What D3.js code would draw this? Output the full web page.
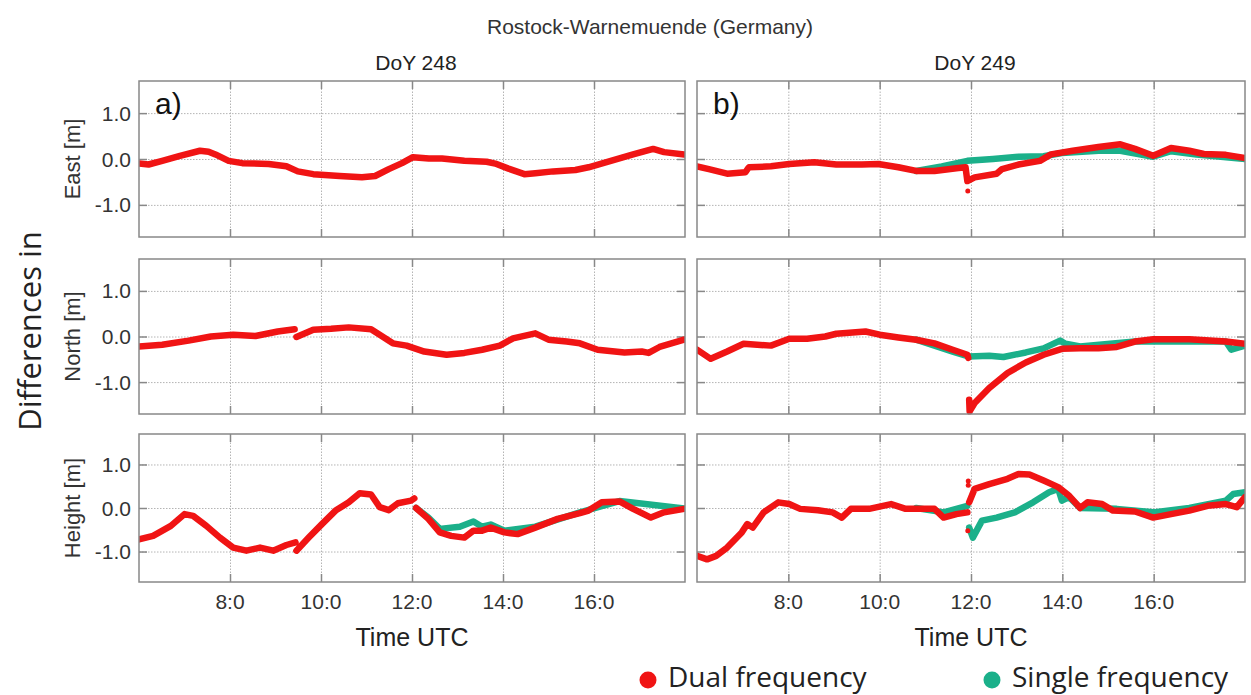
<!DOCTYPE html>
<html>
<head>
<meta charset="utf-8">
<script src="https://cdn.jsdelivr.net/npm/d3@7"></script>
<style>
  html, body { margin: 0; padding: 0; background: #fff; }
  svg { display: block; }
</style>
</head>
<body>
<svg id="chart" width="1251" height="695"></svg>
<script>
// ---- data: [time UTC in hours, difference in metres]; null breaks a track ----
const timeTicks = [8, 10, 12, 14, 16];
const timeTickLabels = ["8:0", "10:0", "12:0", "14:0", "16:0"];
const valueTicks = [1, 0, -1];
const valueTickLabels = ["1.0", "0.0", "-1.0"];
const dayTitles = ["DoY 248", "DoY 249"];
const panelTags = ["a)", "b)"];
const componentNames = ["East [m]", "North [m]", "Height [m]"];
const seriesNames = ["Dual frequency", "Single frequency"];

const east248Dual = [[6.0,-0.10],[6.21,-0.12],[6.51,-0.04],[6.9,0.07],[7.34,0.18],[7.53,0.16],[7.68,0.10],[7.97,-0.04],[8.27,-0.09],[8.85,-0.11],[9.24,-0.16],[9.49,-0.27],[9.83,-0.33],[10.41,-0.37],[10.9,-0.40],[11.19,-0.37],[11.49,-0.22],[11.78,-0.09],[12.02,0.04],[12.37,0.01],[12.66,0.01],[13.15,-0.04],[13.64,-0.06],[13.83,-0.10],[14.12,-0.21],[14.47,-0.33],[14.71,-0.31],[15.1,-0.27],[15.59,-0.24],[15.88,-0.18],[16.37,-0.04],[16.86,0.10],[17.3,0.22],[17.54,0.15],[17.98,0.10]];
const east248Single = [];
const east248Spikes = [];

const east249Dual = [[6.0,-0.16],[6.26,-0.22],[6.66,-0.32],[7.06,-0.29],[7.12,-0.20],[7.14,-0.18],[7.62,-0.16],[8.02,-0.11],[8.57,-0.07],[9.05,-0.12],[9.61,-0.12],[9.97,-0.11],[10.41,-0.18],[10.8,-0.26],[11.2,-0.26],[11.68,-0.20],[11.88,-0.18],[11.92,-0.48],[12.08,-0.40],[12.56,-0.32],[12.68,-0.22],[13.04,-0.12],[13.51,-0.04],[13.75,0.10],[14.23,0.18],[14.79,0.26],[15.27,0.32],[15.59,0.22],[15.99,0.07],[16.38,0.24],[16.78,0.18],[17.1,0.11],[17.58,0.09],[18.0,0.02]];
const east249Single = [[10.8,-0.26],[11.36,-0.16],[11.92,-0.04],[12.48,0.0],[13.04,0.05],[13.59,0.06],[13.99,0.13],[14.79,0.18],[15.27,0.18],[15.99,0.05],[16.38,0.17],[16.94,0.10],[18.0,0.0]];
const east249Spikes = [[11.93,-0.70]];

const north248Dual = [[6.0,-0.22],[6.51,-0.18],[7.09,-0.09],[7.58,0.0],[8.07,0.04],[8.56,0.01],[9.05,0.11],[9.42,0.16],null,[9.46,-0.01],[9.83,0.15],[10.22,0.17],[10.61,0.20],[11.1,0.16],[11.29,0.04],[11.58,-0.15],[11.88,-0.20],[12.27,-0.33],[12.76,-0.40],[13.15,-0.36],[13.54,-0.29],[13.93,-0.20],[14.22,-0.04],[14.71,0.07],[15.0,-0.07],[15.4,-0.11],[15.69,-0.15],[16.08,-0.29],[16.67,-0.35],[17.05,-0.33],[17.2,-0.36],[17.44,-0.23],[17.98,-0.07]];
const north248Single = [];
const north248Spikes = [];

const north249Dual = [[6.0,-0.29],[6.3,-0.49],[6.66,-0.33],[7.02,-0.16],[7.62,-0.20],[8.02,-0.05],[8.41,-0.05],[8.81,0.0],[9.05,0.06],[9.69,0.11],[10.0,0.04],[10.41,-0.02],[10.8,-0.07],[11.2,-0.15],[11.6,-0.29],[11.92,-0.40],[11.94,-0.47],null,[11.96,-1.39],[11.97,-1.64],[12.08,-1.46],[12.4,-1.13],[12.8,-0.80],[13.2,-0.57],[13.59,-0.40],[13.99,-0.27],[14.39,-0.26],[14.79,-0.26],[15.19,-0.23],[15.59,-0.11],[15.99,-0.06],[16.78,-0.06],[17.58,-0.11],[18.0,-0.16]];
const north249Single = [[10.8,-0.07],[11.6,-0.33],[11.96,-0.44],[12.4,-0.42],[12.71,-0.45],[13.2,-0.35],[13.59,-0.26],[13.95,-0.09],[14.07,-0.16],[14.39,-0.22],[15.59,-0.11],[17.58,-0.11],[17.7,-0.29],[18.0,-0.20]];
const north249Spikes = [];

const height248Dual = [[6.0,-0.72],[6.31,-0.64],[6.7,-0.41],[7.0,-0.14],[7.19,-0.18],[7.48,-0.41],[7.78,-0.68],[8.07,-0.91],[8.36,-0.98],[8.66,-0.91],[8.95,-0.98],[9.24,-0.85],[9.44,-0.79],null,[9.46,-0.98],[9.73,-0.68],[10.02,-0.37],[10.32,-0.06],[10.61,0.13],[10.85,0.34],[11.1,0.31],[11.29,0.02],[11.49,-0.05],[11.69,0.11],[11.98,0.17],[12.05,0.22],null,[12.09,0.0],[12.36,-0.25],[12.61,-0.56],[12.86,-0.64],[13.15,-0.68],[13.35,-0.52],[13.54,-0.52],[13.73,-0.45],[14.03,-0.56],[14.32,-0.60],[14.71,-0.45],[15.2,-0.25],[15.69,-0.12],[15.88,-0.06],[16.17,0.13],[16.56,0.15],[16.86,-0.02],[17.25,-0.22],[17.54,-0.10],[17.98,-0.02]];
const height248Single = [[12.09,0.0],[12.36,-0.22],[12.61,-0.48],[13.05,-0.43],[13.35,-0.31],[13.54,-0.43],[13.73,-0.38],[14.03,-0.52],[14.71,-0.43],[15.69,-0.10],[16.56,0.16],[17.98,-0.01]];
const height248Spikes = [];

const height249Dual = [[6.0,-1.10],[6.22,-1.18],[6.42,-1.10],[6.66,-0.91],[6.98,-0.56],[7.1,-0.37],[7.22,-0.45],[7.46,-0.10],[7.78,0.13],[8.02,0.09],[8.26,-0.02],[8.65,-0.05],[8.97,-0.10],[9.17,-0.22],[9.37,-0.02],[9.77,-0.02],[10.25,0.09],[10.57,-0.02],[11.2,-0.02],[11.4,-0.22],[11.68,-0.14],[11.92,-0.10],null,[11.96,0.13],[12.08,0.44],[12.4,0.55],[12.8,0.67],[13.04,0.78],[13.28,0.77],[13.59,0.63],[13.91,0.48],[14.15,0.28],[14.39,0.0],[14.55,0.13],[14.87,0.09],[15.11,-0.06],[15.59,-0.08],[15.99,-0.22],[16.38,-0.14],[16.78,-0.06],[17.18,0.05],[17.58,0.09],[17.82,0.02],[18.0,0.25]];
const height249Single = [[10.8,0.0],[11.4,-0.10],[11.92,0.05],null,[11.96,-0.45],[12.04,-0.68],[12.24,-0.29],[12.56,-0.22],[12.96,-0.10],[13.36,0.13],[13.71,0.36],[13.91,0.44],[13.99,0.17],[14.15,0.25],[14.39,0.0],[15.19,-0.02],[15.99,-0.10],[16.78,0.0],[17.58,0.17],[17.74,0.32],[18.0,0.36]];
const height249Spikes = [[11.94,0.62],[11.94,0.52],[11.93,-0.52]];

// ---- layout ----
const dualColor = "#f01414";
const singleColor = "#1bb08a";
const textColor = "#333";
const frameColor = "#888";
const sans = "Liberation Sans, Arial, sans-serif";
const roundSans = "Open Sans, Noto Sans, sans-serif";

const columns = [{x0: 139, x1: 685}, {x0: 697, x1: 1245}];
const rows = [{y0: 81, y1: 237}, {y0: 259, y1: 414}, {y0: 434, y1: 582}];

const panels = [
  [east248Dual, east248Single, east248Spikes],
  [east249Dual, east249Single, east249Spikes],
  [north248Dual, north248Single, north248Spikes],
  [north249Dual, north249Single, north249Spikes],
  [height248Dual, height248Single, height248Spikes],
  [height249Dual, height249Single, height249Spikes]
];

const svg = d3.select("#chart");

svg.append("text")
  .attr("x", 650).attr("y", 34)
  .attr("text-anchor", "middle")
  .attr("font-family", sans)
  .attr("font-size", 21)
  .attr("fill", textColor)
  .text("Rostock-Warnemuende (Germany)");

svg.append("text")
  .attr("transform", "translate(41,331) rotate(-90)")
  .attr("text-anchor", "middle")
  .attr("font-family", roundSans)
  .attr("font-size", 31)
  .attr("fill", "#222")
  .text("Differences in");

rows.forEach((row, r) => {
  columns.forEach((col, c) => {
    const [dual, single, spikes] = panels[r * 2 + c];
    const x = d3.scaleLinear().domain([6, 18]).range([col.x0, col.x1]);
    const y = d3.scaleLinear().domain([-1.7, 1.7]).range([row.y1, row.y0]);
    const g = svg.append("g");

    // dotted grid
    g.append("g")
      .attr("transform", `translate(0,${row.y1})`)
      .call(d3.axisBottom(x).tickValues(timeTicks).tickSize(-(row.y1 - row.y0)).tickFormat(""))
      .call(a => a.select(".domain").remove())
      .call(a => a.selectAll("line").attr("stroke", "#b4b4b4").attr("stroke-dasharray", "1.5,1.5"));
    g.append("g")
      .attr("transform", `translate(${col.x0},0)`)
      .call(d3.axisLeft(y).tickValues(valueTicks).tickSize(-(col.x1 - col.x0)).tickFormat(""))
      .call(a => a.select(".domain").remove())
      .call(a => a.selectAll("line").attr("stroke", "#b4b4b4").attr("stroke-dasharray", "1.5,1.5"));

    // inward tick marks on all four sides
    const tick = 8;
    const tickStyle = s => s.selectAll("line").attr("stroke", frameColor).attr("stroke-width", 1.5);
    g.append("g").attr("transform", `translate(0,${row.y1})`)
      .call(d3.axisTop(x).tickValues(timeTicks).tickSize(tick).tickFormat(""))
      .call(a => a.select(".domain").remove()).call(tickStyle);
    g.append("g").attr("transform", `translate(0,${row.y0})`)
      .call(d3.axisBottom(x).tickValues(timeTicks).tickSize(tick).tickFormat(""))
      .call(a => a.select(".domain").remove()).call(tickStyle);
    g.append("g").attr("transform", `translate(${col.x0},0)`)
      .call(d3.axisRight(y).tickValues(valueTicks).tickSize(tick).tickFormat(""))
      .call(a => a.select(".domain").remove()).call(tickStyle);
    g.append("g").attr("transform", `translate(${col.x1},0)`)
      .call(d3.axisLeft(y).tickValues(valueTicks).tickSize(tick).tickFormat(""))
      .call(a => a.select(".domain").remove()).call(tickStyle);

    // data tracks
    const clipId = `clip-${r}-${c}`;
    svg.append("clipPath").attr("id", clipId)
      .append("rect").attr("x", col.x0).attr("y", row.y0 - 2)
      .attr("width", col.x1 - col.x0).attr("height", row.y1 - row.y0 + 4);
    const line = d3.line().defined(d => d !== null).x(d => x(d[0])).y(d => y(d[1]));
    const marks = g.append("g").attr("clip-path", `url(#${clipId})`);
    if (single.length) {
      marks.append("path").datum(single).attr("d", line)
        .attr("fill", "none").attr("stroke", singleColor).attr("stroke-width", 6.5)
        .attr("stroke-linejoin", "round").attr("stroke-linecap", "round");
    }
    marks.append("path").datum(dual).attr("d", line)
      .attr("fill", "none").attr("stroke", dualColor).attr("stroke-width", 6.5)
      .attr("stroke-linejoin", "round").attr("stroke-linecap", "round");
    marks.selectAll("circle.spike").data(spikes).join("circle")
      .attr("class", "spike")
      .attr("cx", d => x(d[0])).attr("cy", d => y(d[1])).attr("r", 2.5)
      .attr("fill", dualColor);

    // frame
    g.append("rect")
      .attr("x", col.x0).attr("y", row.y0)
      .attr("width", col.x1 - col.x0).attr("height", row.y1 - row.y0)
      .attr("fill", "none").attr("stroke", frameColor).attr("stroke-width", 1.5);

    // value tick labels (left column)
    if (c === 0) {
      g.selectAll("text.vtick").data(valueTicks).join("text")
        .attr("class", "vtick")
        .attr("x", col.x0 - 8).attr("y", d => y(d) + 7.5)
        .attr("text-anchor", "end")
        .attr("font-family", sans)
        .attr("font-size", 21).attr("fill", textColor)
        .text((d, i) => valueTickLabels[i]);
      g.append("text")
        .attr("transform", `translate(${80},${(row.y0 + row.y1) / 2}) rotate(-90)`)
        .attr("text-anchor", "middle")
        .attr("font-family", sans)
        .attr("font-size", 22).attr("fill", textColor)
        .text(componentNames[r]);
    }

    // time tick labels (bottom row)
    if (r === rows.length - 1) {
      g.selectAll("text.ttick").data(timeTicks).join("text")
        .attr("class", "ttick")
        .attr("x", d => x(d)).attr("y", row.y1 + 27)
        .attr("text-anchor", "middle")
        .attr("font-family", sans)
        .attr("font-size", 21).attr("fill", textColor)
        .text((d, i) => timeTickLabels[i]);
      g.append("text")
        .attr("x", (col.x0 + col.x1) / 2).attr("y", 646)
        .attr("text-anchor", "middle")
        .attr("font-family", sans)
        .attr("font-size", 25).attr("fill", "#222")
        .text("Time UTC");
    }

    // day titles and panel tags (top row)
    if (r === 0) {
      g.append("text")
        .attr("x", (col.x0 + col.x1) / 2 + 4).attr("y", 70)
        .attr("text-anchor", "middle")
        .attr("font-family", sans)
        .attr("font-size", 21).attr("fill", "#222")
        .text(dayTitles[c]);
      g.append("text")
        .attr("x", col.x0 + 16).attr("y", 114)
        .attr("font-family", sans)
        .attr("font-size", 30).attr("fill", "#111")
        .text(panelTags[c]);
    }
  });
});

// legend
const legend = svg.append("g");
const legendItems = [
  {name: seriesNames[0], color: dualColor, x: 648},
  {name: seriesNames[1], color: singleColor, x: 992}
];
legendItems.forEach(item => {
  legend.append("circle").attr("cx", item.x).attr("cy", 680).attr("r", 8.5).attr("fill", item.color);
  legend.append("text")
    .attr("x", item.x + 20).attr("y", 687)
    .attr("font-family", roundSans)
    .attr("font-size", 28).attr("fill", "#222")
    .text(item.name);
});
</script>
</body>
</html>
